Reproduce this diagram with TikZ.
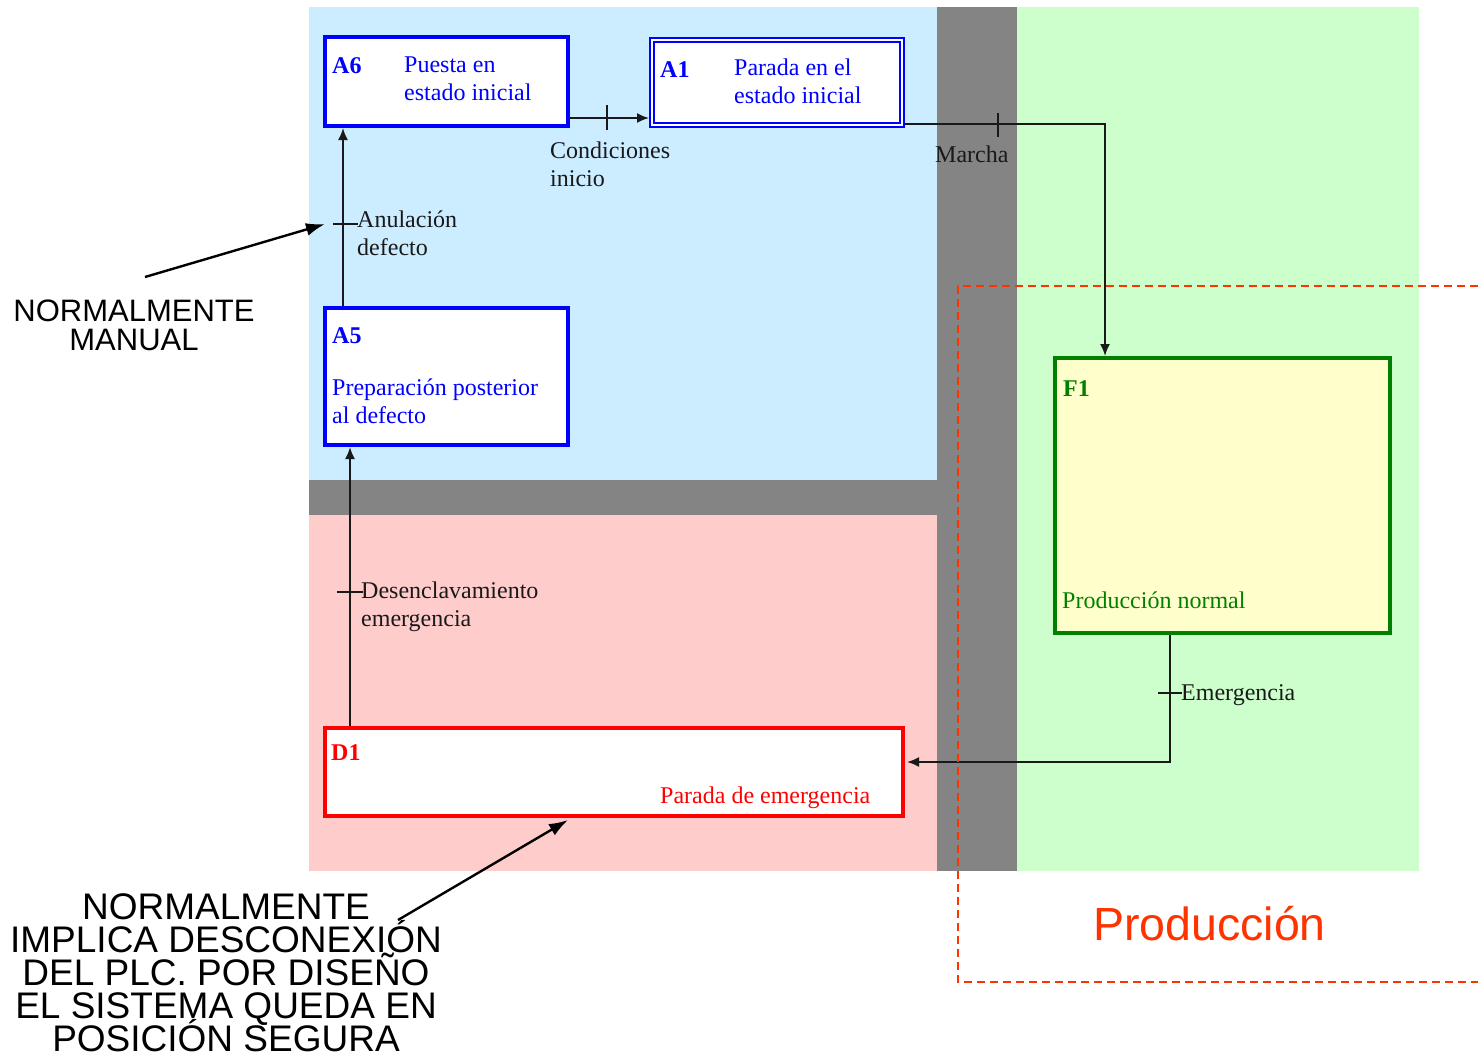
\documentclass[tikz,border=0pt]{standalone}
\usepackage{fontspec}
\setmainfont{Liberation Serif}
\newfontfamily\annfont{Liberation Sans}
\usetikzlibrary{arrows.meta,calc}

\definecolor{bgblue}{RGB}{204,236,255}
\definecolor{bgpink}{RGB}{255,204,204}
\definecolor{bggreen}{RGB}{204,255,204}
\definecolor{bggray}{RGB}{132,132,132}
\definecolor{paleyellow}{RGB}{255,255,204}
\definecolor{boxblue}{RGB}{0,0,255}
\definecolor{boxred}{RGB}{255,0,0}
\definecolor{boxgreen}{RGB}{0,128,0}
\definecolor{prodorange}{RGB}{255,51,0}
\definecolor{linegray}{RGB}{25,25,25}

% keep a fixed line pitch even when accented capitals are taller
\newcommand\tightlines{\lineskiplimit=-100pt\relax}

\begin{document}
\begin{tikzpicture}[x=1pt,y=-1pt,
  stepbox/.style={draw, fill=white, line width=4pt, inner sep=0pt},
  idlbl/.style={inner sep=0pt, anchor=base west, font=\fontsize{24}{28}\selectfont\bfseries},
  % multi-line labels are anchored at the baseline of their last line
  lbl/.style={inner sep=0pt, anchor=base west, align=left, font=\fontsize{24}{28}\selectfont},
  trlbl/.style={lbl, text=linegray},
  conn/.style={draw=linegray, line width=1.8pt},
  flow/.style={conn, -{Latex[length=12pt,width=10pt]}},
  note/.style={draw=black, line width=2.4pt, -{Latex[length=19pt,width=13pt]}},
  notetext/.style={inner sep=0pt, anchor=base, align=center, text=black}
]
\useasboundingbox (0,0) rectangle (1478,1053);

% zone backgrounds
\fill[bgblue]  (309,7)   rectangle (937,480);
\fill[bggray]  (309,480) rectangle (937,515);
\fill[bgpink]  (309,515) rectangle (937,871);
\fill[bggray]  (937,7)   rectangle (1017,871);
\fill[bggreen] (1017,7)  rectangle (1419,871);

% steps
\node[stepbox, draw=boxblue, minimum width=243pt, minimum height=89pt] (A6) at (446.5,81.5) {};
\node[stepbox, draw=boxblue, line width=1.8pt, double=white, double distance=2.4pt, outer sep=3pt,
      minimum width=250pt, minimum height=85pt] (A1) at (777,82.5) {};
\node[stepbox, draw=boxblue, minimum width=243pt, minimum height=137pt] (A5) at (446.5,376.5) {};
\node[stepbox, draw=boxred, minimum width=578pt, minimum height=88pt] (D1) at (614,772) {};
\node[stepbox, draw=boxgreen, fill=paleyellow, minimum width=335pt, minimum height=275pt] (F1) at (1222.5,495.5) {};

% step texts
\node[idlbl, text=boxblue] (A6id) at (332,73) {A6};
\node[lbl, text=boxblue] (A6txt) at (404,100) {Puesta en\\estado inicial};
\node[idlbl, text=boxblue] (A1id) at (660,77) {A1};
\node[lbl, text=boxblue] (A1txt) at (734,103) {Parada en el\\estado inicial};
\node[idlbl, text=boxblue] (A5id) at (332,343) {A5};
\node[lbl, text=boxblue] (A5txt) at (332,423) {Preparación posterior\\al defecto};
\node[idlbl, text=boxred] (D1id) at (331,760) {D1};
\node[lbl, text=boxred] (D1txt) at (660,803) {Parada de emergencia};
\node[idlbl, text=boxgreen] (F1id) at (1063,396) {F1};
\node[lbl, text=boxgreen] (F1txt) at (1062,608) {Producción normal};

% transitions
\draw[flow] ($(A6.south east)+(0,-10)$) coordinate (c1) -- (A1.west |- c1);
\draw[conn] ($(c1)+(37,-13)$) -- ++(0,25);
\node[trlbl] (tCond) at (550,186) {Condiciones\\inicio};

\draw[flow] ($(A1.south east)+(0,-4)$) coordinate (c2) -| ($(F1.north west)+(52,0)$) coordinate (c3);
\draw[conn] ($(c2)+(93,-11)$) -- ++(0,24);
\node[trlbl] (tMarcha) at (935,162) {Marcha};

\draw[flow] ($(F1.south west)+(117,0)$) coordinate (c4) |- ($(D1.north east)+(2,36)$) coordinate (c5);
\draw[conn] ($(c4)+(-12,58)$) -- ++(24,0);
\node[trlbl] (tEmerg) at (1181,700) {Emergencia};

\draw[flow] ($(D1.north west)+(27,0)$) coordinate (c6) -- (c6 |- A5.south);
\draw[conn] ($(c6)+(-13,-134)$) -- ++(26,0);
\node[trlbl] (tDesen) at (361,626) {Desenclavamiento\\emergencia};

\draw[flow] ($(A5.north west)+(20,0)$) coordinate (c7) -- (c7 |- A6.south);
\draw[conn] ($(c7)+(-10,-82)$) -- ++(25,0);
\node[trlbl] (tAnul) at (357,255) {Anulación\\defecto};

% production zone outline
\draw[prodorange, line width=1.8pt, dash pattern=on 8pt off 5pt]
  (1478,286) -- (958,286) -- (958,982) -- (1478,982);
\node[inner sep=0pt, anchor=base west, text=prodorange, font=\annfont\fontsize{46.5}{50}\selectfont] (prod) at (1093,940) {Producción};

% side notes
\node[notetext, font=\annfont\fontsize{31}{28.5}\selectfont\tightlines] (noteManual) at (134,350) {NORMALMENTE\\MANUAL};
\coordinate (m1) at (145,277);
\coordinate (m2) at (325,224);
\draw[note] (m1) -- (m2);

\node[notetext, font=\annfont\fontsize{37}{33}\selectfont\tightlines] (noteSafe) at (226,1051)
  {NORMALMENTE\\IMPLICA DESCONEXIÓN\\DEL PLC. POR DISEÑO\\EL SISTEMA QUEDA EN\\POSICIÓN SEGURA};
\coordinate (s1) at (398,920);
\coordinate (s2) at (568,820);
\draw[note] (s1) -- (s2);
\end{tikzpicture}
\end{document}
